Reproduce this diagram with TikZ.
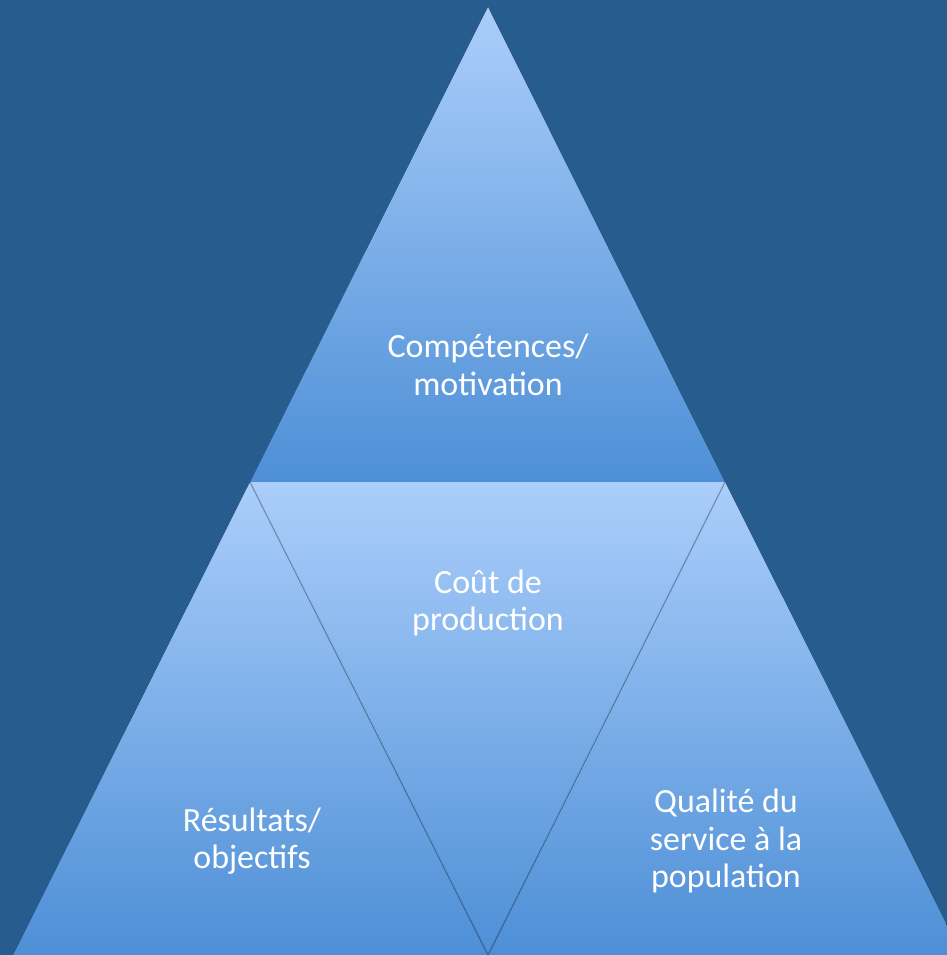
\documentclass[tikz,border=0pt]{standalone}
\usepackage{fontspec}
\setmainfont{Carlito}
\usetikzlibrary{positioning}
\usetikzlibrary{calc}

\definecolor{bgblue}{HTML}{275C8F}
\definecolor{facetlight}{HTML}{ABCEFB}
\definecolor{facetdark}{HTML}{4D8FD6}

\begin{document}
\begin{tikzpicture}[
      x = 0.2mm, y = -0.2mm,
      facet/.style = {
        top color = facetlight, bottom color = facetdark
      },
      facettext/.style = {
        text = white, align = center, inner sep = 0pt,
        font = \fontsize{19.3}{21.3}\selectfont
      },
      crease/.style = { black, opacity = 0.13, line width = 1pt },
    ]

    \fill[bgblue] (0,0) rectangle (947,955);
    \useasboundingbox (0,0) rectangle (947,955);
    \clip (0,0) rectangle (947,955);

    \coordinate (apex) at (488,7);
    \coordinate (W) at (250,482);
    \coordinate (E) at (725,482);
    \coordinate (S) at (488,955);
    \coordinate (SW) at (13,955);
    \coordinate (SE) at (962,955);

    \fill[facet] (apex) -- (E) -- (W) -- cycle;
    \fill[facet] (W) -- (S) -- (SW) -- cycle;
    \fill[facet] (E) -- (SE) -- (S) -- cycle;
    \fill[facet] (W) -- (E) -- (S) -- cycle;
    \draw[crease] (W) -- (S) -- (E);

    \node[facettext] (skills) at (488,365) {Compétences/\\motivation};
    \node[facettext] (cost) at (488,603) {Coût de\\production};
    \node[facettext] (results) at (252,841) {Résultats/\\objectifs};
    \node[facettext] (quality) at (726,841) {Qualité du\\service à la\\population};
  \end{tikzpicture}
\end{document}
